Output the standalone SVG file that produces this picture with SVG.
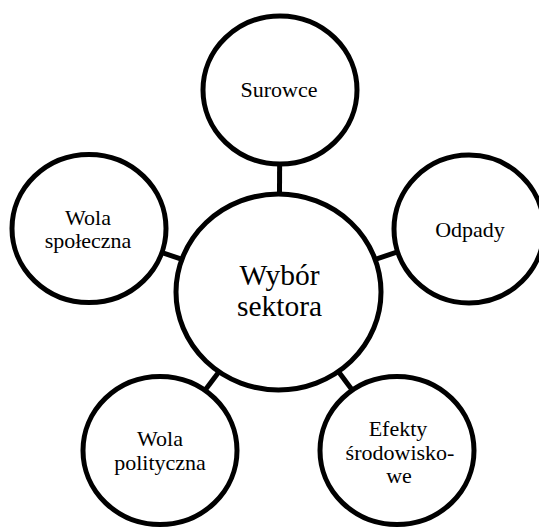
<svg xmlns="http://www.w3.org/2000/svg" width="539" height="528" viewBox="0 0 539 528">
  <style>
    .bubble { fill: #ffffff; stroke: #000000; stroke-width: 5; }
    .link { stroke: #000000; stroke-width: 5; fill: none; }
    .label { font-family: "Liberation Serif", "Times New Roman", serif; font-size: 22px; fill: #000000; text-anchor: middle; }
    .hub { font-size: 29.5px; }
  </style>
  <rect width="539" height="528" fill="#ffffff"/>

  <!-- spokes drawn centre to centre, hidden under the filled bubbles -->
  <g id="connectors">
    <line class="link" x1="279" y1="292" x2="280" y2="89"/>
    <line class="link" x1="279" y1="292" x2="468" y2="228"/>
    <line class="link" x1="279" y1="292" x2="89" y2="228"/>
    <line class="link" x1="279" y1="292" x2="160" y2="450"/>
    <line class="link" x1="279" y1="292" x2="397" y2="450"/>
  </g>

  <g id="hub">
    <ellipse class="bubble" cx="278.5" cy="292" rx="102.5" ry="98"/>
    <text class="label hub" x="279.5" y="285">Wybór</text>
    <text class="label hub" x="279.5" y="316">sektora</text>
  </g>

  <g id="surowce">
    <ellipse class="bubble" cx="280" cy="90" rx="77" ry="74"/>
    <text class="label" x="279" y="97">Surowce</text>
  </g>

  <g id="odpady">
    <ellipse class="bubble" cx="469" cy="229" rx="75" ry="74"/>
    <text class="label" x="470" y="236.5">Odpady</text>
  </g>

  <g id="wola-spoleczna">
    <ellipse class="bubble" cx="89" cy="228.5" rx="77" ry="74"/>
    <text class="label" x="88" y="225">Wola</text>
    <text class="label" x="88" y="248">społeczna</text>
  </g>

  <g id="wola-polityczna">
    <ellipse class="bubble" cx="160" cy="450.5" rx="77" ry="74"/>
    <text class="label" x="160" y="446">Wola</text>
    <text class="label" x="160" y="469.5">polityczna</text>
  </g>

  <g id="efekty">
    <ellipse class="bubble" cx="397" cy="450.5" rx="77" ry="74"/>
    <text class="label" x="398" y="436">Efekty</text>
    <text class="label" x="400" y="460">środowisko-</text>
    <text class="label" x="399" y="482.5">we</text>
  </g>
</svg>
